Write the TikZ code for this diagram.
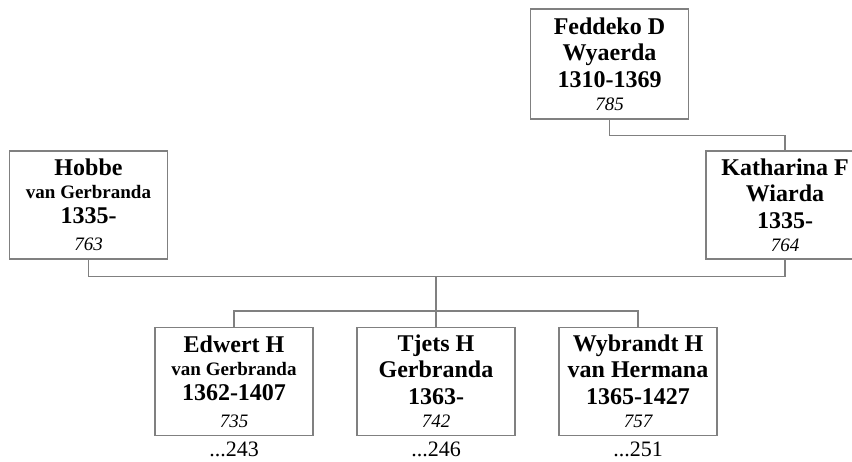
\documentclass[tikz,border=0pt]{standalone}
\usepackage{fontspec}
\setmainfont{Liberation Serif}
\usepackage{tikz}
\usetikzlibrary{calc}

\newcommand{\klein}[1]{{\fontsize{19}{26}\selectfont #1}}
\newcommand{\nummer}[1]{{\fontsize{19}{26}\selectfont\mdseries\itshape #1}}

\begin{document}
\begin{tikzpicture}[x=1pt, y=1pt,
    persoon/.style={draw=gray, line width=1.3pt, minimum width=158pt, minimum height=108pt,
        inner sep=0pt, align=center, font=\fontsize{24}{26}\selectfont\bfseries},
    verwijs/.style={anchor=north, inner sep=0pt, font=\fontsize{22}{24}\selectfont},
    lijn/.style={draw=gray, line width=1.3pt}]
            \clip (0,0) rectangle (852,-461);
            % ouders en grootouder
            \node[persoon, minimum height=110pt] (feddeko) at (609.5,-64) {Feddeko D\\Wyaerda\\[1pt]1310-1369\\[-3pt]\nummer{785}};
            \node[persoon] (hobbe) at (88.5,-205) {Hobbe\\[-3pt]\klein{van Gerbranda}\\[-1pt]1335-\\[1pt]\nummer{763}};
            \node[persoon] (katharina) at (785,-205) {Katharina F\\Wiarda\\[1pt]1335-\\[-3pt]\nummer{764}};
            % kinderen
            \node[persoon] (edwert) at (234,-381.5) {Edwert H\\[-3pt]\klein{van Gerbranda}\\[-1pt]1362-1407\\[1pt]\nummer{735}};
            \node[persoon] (tjets) at (436,-381.5) {Tjets H\\Gerbranda\\[1pt]1363-\\[-3pt]\nummer{742}};
            \node[persoon] (wybrandt) at (638,-381.5) {Wybrandt H\\van Hermana\\[1pt]1365-1427\\[-3pt]\nummer{757}};
            \node[verwijs] (n243) at ([yshift=-6pt]edwert.south) {...243};
            \node[verwijs] (n246) at ([yshift=-6pt]tjets.south) {...246};
            \node[verwijs] (n251) at ([yshift=-6pt]wybrandt.south) {...251};
            % verbindingen
            \draw[lijn] (feddeko.south) -- ++(0,-16) -| (katharina.north);
            \draw[lijn] (hobbe.south) -- ++(0,-17) coordinate (huwelijk) -| (katharina.south);
            \draw[lijn] (tjets.north |- huwelijk) -- (tjets.north);
            \draw[lijn] (edwert.north) -- ++(0,16) -| (wybrandt.north);
        \end{tikzpicture}
\end{document}
